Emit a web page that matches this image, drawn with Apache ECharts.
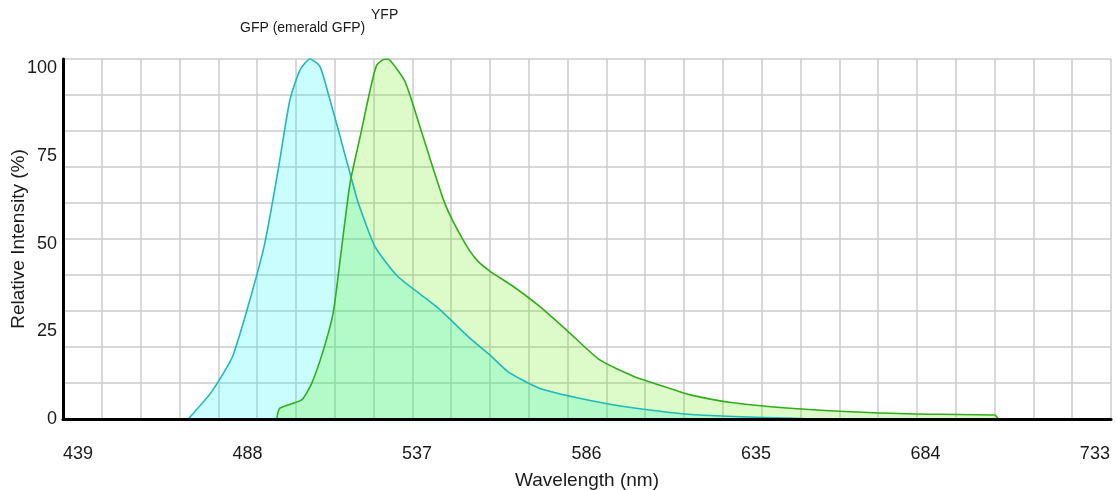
<!DOCTYPE html>
<html>
<head>
<meta charset="utf-8">
<script src="https://cdn.jsdelivr.net/npm/echarts@6/dist/echarts.min.js"></script>
<style>
  html, body { margin: 0; padding: 0; background: #fff; }
  #chart { width: 1116px; height: 490px; }
</style>
</head>
<body>
<div id="chart"></div>
<script>
// emission spectra (wavelength nm / relative intensity %)
var gfpWavelength = [475.2, 482.0, 488.2, 496.9, 501.2, 504.6, 507.5, 510.4, 513.3, 516.2, 518.6, 522.5, 524.4, 529.2, 535.9, 547.0, 556.7, 562.4, 567.7, 576.9, 593.3, 606.8, 623.2, 656.9];
var gfpIntensity  = [0, 7.6, 17.8, 46.9, 69.2, 88.6, 96.9, 100, 97.9, 88.6, 80.3, 66.4, 59.9, 47.9, 39.5, 31.2, 22.4, 17.8, 13.1, 8.5, 4.8, 2.7, 1.1, 0];

var yfpWavelength = [500.8, 501.7, 508.0, 510.9, 514.3, 517.1, 519.1, 522.0, 524.9, 527.8, 529.7, 532.1, 533.5, 537.9, 542.2, 549.4, 554.7, 558.6, 562.4, 569.2, 576.9, 584.6, 594.2, 603.9, 614.5, 620.3, 632.8, 649.2, 673.3, 692.5, 708.4, 709.4];
var yfpIntensity  = [0, 3.0, 5.3, 9.9, 19.2, 29.4, 44, 65.5, 78.4, 91.4, 98.3, 100, 99.7, 93.7, 81.2, 59.9, 49.7, 44.2, 41.1, 36.8, 31.2, 24.7, 16.4, 11.9, 8.5, 6.7, 4.5, 3.0, 1.75, 1.3, 1.1, 0];

var xTickLabels = [439, 488, 537, 586, 635, 684, 733];
var yTickLabels = [0, 25, 50, 75, 100];

var seriesNames = ['GFP (emerald GFP)', 'YFP'];

function zip(xs, ys) {
    return xs.map(function (x, i) { return [x, ys[i]]; });
}

var textColor = '#1a1a1a';
var gridColor = '#cbcbcb';
var font = 'Liberation Sans, Arial, sans-serif';

var chart = echarts.init(document.getElementById('chart'));

var option = {
    animation: false,
    grid: { left: 63, right: 5, top: 59, bottom: 71, containLabel: false, outerBoundsMode: 'none' },
    legend: [
        {
            data: [seriesNames[0]],
            left: 230, top: 16,
            icon: 'none', itemWidth: 0, itemHeight: 0,
            selectedMode: false,
            textStyle: { color: textColor, fontSize: 14, fontFamily: font }
        },
        {
            data: [seriesNames[1]],
            left: 361, top: 3,
            icon: 'none', itemWidth: 0, itemHeight: 0,
            selectedMode: false,
            textStyle: { color: textColor, fontSize: 14, fontFamily: font }
        }
    ],
    xAxis: [
        {
            type: 'value',
            min: 439, max: 742, interval: 49,
            z: 10,
            name: 'Wavelength (nm)',
            nameLocation: 'middle',
            nameGap: 52,
            nameTextStyle: { color: textColor, fontSize: 19, fontFamily: font },
            axisLine: { show: true, onZero: false, lineStyle: { color: '#000', width: 3 } },
            axisTick: { show: false },
            splitLine: { show: false },
            axisLabel: {
                color: textColor, fontSize: 18, margin: 26, align: 'left',
                fontFamily: font,
                formatter: function (v) {
                    return xTickLabels.indexOf(Math.round(v)) >= 0 && Math.abs(v - Math.round(v)) < 0.01 ? String(Math.round(v)) : '';
                }
            }
        },
        {
            // only for the vertical grid lines
            type: 'value',
            min: 0, max: 27, interval: 1,
            position: 'top',
            axisLine: { show: false },
            axisTick: { show: false },
            axisLabel: { show: false },
            splitLine: { show: true, lineStyle: { color: gridColor, width: 1.5 } }
        }
    ],
    yAxis: [
        {
            // left axis: line, name and the 0..100 labels (placed a little low, as in the original)
            type: 'value',
            min: 0, max: 102.6, interval: 25,
            position: 'left',
            z: 10,
            name: 'Relative Intensity (%)',
            nameLocation: 'middle',
            nameGap: 35,
            nameMoveOverlap: false,
            nameTextStyle: { color: textColor, fontSize: 19, fontFamily: font },
            axisLine: { show: true, onZero: false, lineStyle: { color: '#000', width: 3 } },
            axisTick: { show: false },
            splitLine: { show: false },
            axisLabel: {
                color: textColor, fontSize: 18, margin: 6,
                fontFamily: font,
                formatter: function (v) { return yTickLabels.indexOf(v) >= 0 ? String(v) : ''; }
            }
        },
        {
            // data scale, draws the horizontal grid lines
            type: 'value',
            min: 0, max: 100, interval: 10,
            position: 'right',
            axisLine: { show: false },
            axisTick: { show: false },
            axisLabel: { show: false },
            splitLine: { show: true, lineStyle: { color: gridColor, width: 1.5 } }
        }
    ],
    series: [
        {
            name: seriesNames[0],
            type: 'line',
            yAxisIndex: 1,
            data: zip(gfpWavelength, gfpIntensity),
            showSymbol: false,
            symbol: 'none',
            smooth: 0.2,
            lineStyle: { color: '#1fb9bb', width: 1.6 },
            itemStyle: { color: '#1fb9bb' },
            areaStyle: { color: 'rgba(0, 245, 250, 0.3)' }
        },
        {
            name: seriesNames[1],
            type: 'line',
            yAxisIndex: 1,
            data: zip(yfpWavelength, yfpIntensity),
            showSymbol: false,
            symbol: 'none',
            smooth: 0.2,
            lineStyle: { color: '#31ad1c', width: 1.6 },
            itemStyle: { color: '#31ad1c' },
            areaStyle: { color: 'rgba(90, 235, 0, 0.3)' }
        }
    ]
};

chart.setOption(option);
</script>
</body>
</html>
